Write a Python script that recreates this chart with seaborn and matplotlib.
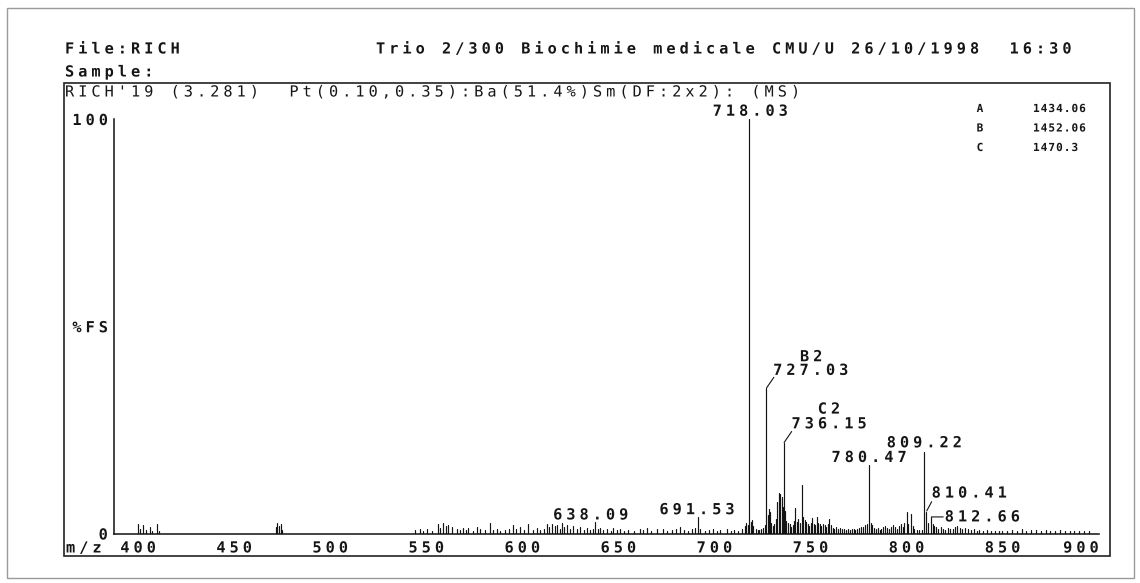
import numpy as np
import pandas as pd
import matplotlib
matplotlib.use("Agg")
import matplotlib.pyplot as plt
import matplotlib.patheffects as pe
from matplotlib.path import Path
from matplotlib.patches import Rectangle
import seaborn as sns

# ---------------- data ----------------
peak_mz = [
    400.2, 401.0, 402.8, 404.3, 406.0, 407.5, 409.7, 411.0,
    471.6, 472.6, 473.6, 474.4, 475.2,
    544.2, 546.8, 548.5, 550.3, 553.0, 556.3, 557.4, 559.0, 560.2, 561.6,
    563.3, 565.9, 567.5, 569.3, 571.0, 572.0, 574.2, 576.3, 578.0, 580.5,
    583.2, 585.0, 586.7, 588.5, 591.0, 593.0, 595.4, 597.0, 598.9, 601.0,
    603.2, 605.5, 607.5, 609.5, 611.2, 612.7, 614.0, 615.4, 617.0, 618.0,
    619.5, 620.6, 622.0, 623.2, 625.0, 626.7, 628.5, 630.1, 632.0, 633.6,
    635.5, 637.1, 638.09, 639.5, 640.5, 642.0, 644.0, 646.0, 647.4, 649.5,
    650.9, 653.0, 655.0, 658.0, 661.3, 663.0, 664.8, 667.0, 670.0, 673.4,
    675.5, 678.0, 680.0, 682.1, 684.0, 686.5, 688.5, 690.2, 691.53, 692.8,
    695.0, 697.0, 699.5, 701.5, 703.0, 706.4, 708.5, 710.5, 712.5, 714.5,
    715.8, 716.6, 717.3,
    718.03, 718.9, 719.6, 720.4, 721.5, 722.5, 723.5, 724.5, 725.5, 726.3,
    727.03, 727.7, 728.3, 729.0, 729.7, 730.5, 731.3, 732.1, 732.8, 733.5,
    734.2, 735.0, 735.6, 736.15, 736.8, 737.5, 738.3, 739.2, 740.0, 740.8,
    741.5, 742.1, 742.8, 743.6, 744.4, 745.5, 746.2, 747.0, 747.8, 748.6,
    749.4, 750.2, 750.9, 751.7, 752.5, 753.3, 754.1, 755.0, 755.8, 756.6,
    757.5, 758.3, 759.1, 759.9, 760.8, 761.6, 762.5, 763.5, 764.5, 765.5,
    766.5, 767.5, 768.5, 769.5, 770.5, 771.5, 772.5, 773.5, 774.5, 775.5,
    776.5, 777.5, 778.5, 779.3, 780.47, 781.4, 782.3, 783.2, 784.0, 785.0,
    786.0, 787.0, 788.0, 789.0, 790.0, 791.0, 792.0, 793.0, 794.0, 795.0,
    796.0, 797.0, 798.0, 799.0, 800.1, 801.0, 802.2, 803.2, 804.2, 805.5,
    806.8, 808.0, 809.22, 810.41, 811.5, 812.66, 813.6, 814.6, 815.6, 816.6,
    817.8, 819.0, 820.2, 821.5, 822.8, 824.0, 825.3, 826.5, 827.8, 829.0,
    830.5, 832.0, 833.5, 835.0, 836.5, 838.0, 840.0, 842.0, 844.0, 846.0,
    848.0, 850.0, 852.5, 855.0, 857.5, 860.0, 862.5, 865.0, 867.5, 870.0,
    872.5, 875.0, 877.5, 880.0, 882.5, 885.0, 887.5, 890.0, 892.5, 895.0,
]
peak_int = [
    2.4, 1.2, 2.0, 0.8, 1.5, 0.7, 2.4, 0.6,
    1.6, 2.6, 1.8, 2.4, 0.8,
    0.8, 1.0, 0.6, 1.2, 0.7, 2.2, 1.4, 2.6, 1.8, 2.0,
    1.6, 1.2, 0.8, 1.4, 0.9, 1.3, 0.7, 1.6, 1.1, 0.8,
    2.5, 0.9, 1.2, 0.7, 0.9, 1.0, 2.0, 1.1, 1.6, 0.8,
    2.3, 0.9, 1.3, 0.8, 1.1, 2.2, 1.6, 2.4, 1.8, 2.0,
    1.2, 2.6, 1.5, 2.0, 1.0, 1.8, 1.1, 1.6, 0.9, 1.4,
    0.8, 1.2, 2.8, 1.0, 1.4, 0.8, 1.2, 0.7, 1.3, 0.8,
    1.1, 0.6, 0.9, 0.7, 1.2, 0.8, 1.3, 0.7, 1.0, 1.2,
    0.7, 0.9, 1.1, 1.5, 0.8, 0.7, 1.0, 1.4, 4.0, 1.2,
    0.7, 0.9, 1.0, 0.6, 0.8, 1.0, 0.7, 0.8, 0.7, 1.2,
    1.8, 2.6, 2.0,
    100.0, 2.8, 3.2, 1.8, 1.0, 0.8, 0.9, 1.0, 1.3, 2.0,
    35.0, 4.5, 5.8, 5.2, 2.5, 1.8, 2.2, 3.5, 7.5, 9.7,
    9.5, 8.8, 6.5, 21.8, 5.5, 3.0, 2.6, 2.2, 1.5, 2.0,
    3.0, 6.2, 2.8, 3.4, 2.6, 11.7, 4.0, 3.2, 2.8, 2.2,
    1.8, 2.5, 3.7, 2.4, 2.0, 4.0, 2.6, 2.2, 1.8, 2.4,
    2.0, 1.6, 2.2, 3.6, 2.0, 1.4, 1.2, 1.5, 1.0, 1.3,
    1.0, 1.2, 0.9, 1.1, 0.9, 1.2, 1.0, 0.8, 1.1, 1.3,
    1.6, 1.5, 2.0, 2.4, 16.5, 2.6, 2.0, 1.4, 1.0, 1.3,
    0.9, 1.2, 1.5, 1.8, 1.4, 1.2, 1.6, 2.0, 1.5, 1.2,
    1.8, 2.2, 1.6, 2.5, 5.2, 2.4, 4.8, 1.8, 1.2, 0.9,
    0.8, 0.9, 19.7, 5.3, 2.5, 4.0, 2.2, 1.8, 1.5, 1.2,
    1.6, 1.2, 0.9, 1.4, 1.0, 1.2, 1.5, 1.8, 1.3, 1.0,
    1.4, 1.1, 0.8, 1.0, 0.7, 0.9, 0.6, 0.8, 0.6, 0.7,
    0.5, 0.7, 0.5, 0.9, 0.7, 1.0, 0.7, 0.9, 0.8, 0.6,
    0.9, 0.6, 0.7, 0.8, 0.5, 0.7, 0.6, 0.5, 0.7, 0.5,
]
label_mz = [718.03, 727.03, 736.15, 780.47, 809.22, 810.41, 812.66, 638.09, 691.53]
label_text = ["718.03", "727.03", "736.15", "780.47", "809.22", "810.41", "812.66", "638.09", "691.53"]
ion_mz = [727.03, 736.15]
ion_names = ["B2", "C2"]
x_ticks = [400, 450, 500, 550, 600, 650, 700, 750, 800, 850, 900]
y_ticks = [0, 50, 100]
y_tick_labels = ["0", "%FS", "100"]
ref_keys = ["A", "B", "C"]
ref_vals = ["1434.06", "1452.06", "1470.3"]

header_file = "File:RICH"
header_title = "Trio 2/300 Biochimie medicale CMU/U 26/10/1998  16:30"
header_sample = "Sample:"
header_scan = "RICH'19 (3.281)  Pt(0.10,0.35):Ba(51.4%)Sm(DF:2x2): (MS)"

# ---------------- style ----------------
sns.set_style("white")
MONO = "DejaVu Sans Mono"
plt.rcParams["font.family"] = [MONO, "DejaVu Sans"]
TXT = "#161616"
MONO_ADV = 1233 / 2048 * 100  # advance of DejaVu Sans Mono in text-path units


class Spaced(pe.AbstractPathEffect):
    """Letter-spacing for monospace text (printer-like spacing)."""

    def __init__(self, factor, ha="left"):
        super().__init__()
        self.extra = (factor - 1.0) * MONO_ADV
        self.ha = ha

    def draw_path(self, renderer, gc, tpath, affine, rgbFace=None):
        verts = np.array(tpath.vertices, dtype=float)
        codes = tpath.codes
        if codes is None or len(verts) == 0:
            renderer.draw_path(gc, tpath, affine, rgbFace)
            return
        codes = np.asarray(codes)
        starts = np.flatnonzero(codes == Path.MOVETO)
        ends = np.append(starts[1:], len(verts))
        cells = []
        for s, e in zip(starts, ends):
            m = codes[s:e] != Path.CLOSEPOLY
            seg = verts[s:e]
            cx = seg[m, 0].mean() if m.any() else seg[:, 0].mean()
            c = int(np.floor(cx / MONO_ADV))
            verts[s:e, 0] += c * self.extra
            cells.append(c)
        n = (max(cells) + 1) if cells else 1
        shift = {"left": 0.0, "center": -(n - 1) * self.extra / 2,
                 "right": -(n - 1) * self.extra}[self.ha]
        verts[:, 0] += shift
        renderer.draw_path(gc, Path(verts, codes), affine, rgbFace)


FS = 11          # main text size (pt)
SP = 1.435       # spacing factor -> ~13.2 px per character
W, H = 1140, 583
fig = plt.figure(figsize=(W / 100, H / 100), dpi=100)
fig.patch.set_facecolor("white")


def ftext(x, y, s, ha="left", size=FS, weight="bold", factor=SP):
    return fig.text(x / W, 1 - y / H, s, ha=ha, va="center", fontsize=size,
                    fontweight=weight, family=MONO, color=TXT,
                    path_effects=[Spaced(factor, ha)])


# axes: 400 -> px 138, 1.921 px per m/z unit
K = 1.921
ax_left, ax_right, ax_bottom, ax_top = 114, 1106, 533.5, 119
ax = fig.add_axes([ax_left / W, 1 - ax_bottom / H, (ax_right - ax_left) / W,
                   (ax_bottom - ax_top) / H])
ax.set_facecolor("none")

# stick spectrum through seaborn
rows = []
for i, (m, h) in enumerate(zip(peak_mz, peak_int)):
    rows.append((i, m, 0.0))
    rows.append((i, m, h))
df = pd.DataFrame(rows, columns=["peak", "mz", "intensity"])
sns.lineplot(data=df, x="mz", y="intensity", units="peak", estimator=None,
             sort=False, color="#141414", lw=0.85, ax=ax, legend=False)

xmin = 400 - (138 - ax_left) / K
xmax = 400 + (ax_right - 138) / K
ax.set_xlim(xmin, xmax)
ax.set_ylim(0, 100)
ax.set_xlabel("")
ax.set_ylabel("")
for s in ["top", "right"]:
    ax.spines[s].set_visible(False)
for s in ["left", "bottom"]:
    ax.spines[s].set_color("#111111")
    ax.spines[s].set_linewidth(1.1)
ax.spines["left"].set_bounds(0, 100)
ax.spines["bottom"].set_bounds(xmin, 900)

ax.set_xticks(x_ticks)
ax.set_xticklabels([str(t) for t in x_ticks])
ax.set_yticks(y_ticks)
ax.set_yticklabels(y_tick_labels)
ax.tick_params(axis="x", direction="inout", length=4, width=0.8, pad=3.0,
               colors=TXT, labelsize=FS)
ax.tick_params(axis="y", direction="out", length=3, width=0.8, pad=1.5,
               colors=TXT, labelsize=FS)
xtl = ax.get_xticklabels()
for i, t in enumerate(xtl):
    t.set_family(MONO)
    t.set_fontweight("bold")
    if i == len(xtl) - 1:
        t.set_ha("right")
        t.set_path_effects([Spaced(SP, "right")])
    else:
        t.set_path_effects([Spaced(SP, "center")])
for t in ax.get_yticklabels():
    t.set_family(MONO)
    t.set_fontweight("bold")
    t.set_path_effects([Spaced(SP, "right")])


def peak_top(m):
    return (m, peak_int[peak_mz.index(m)])


# label placement (offsets in points from the peak top)
label_offset = {
    718.03: (0.8, 5.6), 727.03: (31.9, 13.0), 736.15: (32.5, 13.9),
    780.47: (0.0, 5.5), 809.22: (0.0, 6.5), 810.41: (30.7, 13.3),
    812.66: (37.0, 0.0), 638.09: (-3.5, 5.0), 691.53: (-0.9, 5.2),
}
leader_end = {727.03: (5.5, 8.0), 736.15: (5.7, 8.4), 810.41: (3.8, 7.1),
              812.66: (9.0, 0.0)}
ion_offset = {727.03: (32.3, 22.8), 736.15: (32.5, 24.5)}

for m, txt in zip(label_mz, label_text):
    ax.annotate(txt, xy=peak_top(m), xytext=label_offset[m],
                textcoords="offset points", ha="center", va="center",
                fontsize=FS, fontweight="bold", family=MONO, color=TXT,
                annotation_clip=False, path_effects=[Spaced(SP, "center")])
    if m in leader_end:
        ax.annotate("", xy=peak_top(m), xytext=leader_end[m],
                    textcoords="offset points", annotation_clip=False,
                    arrowprops=dict(arrowstyle="-", lw=0.8, color=TXT,
                                    shrinkA=0, shrinkB=0.5))
for m, name in zip(ion_mz, ion_names):
    ax.annotate(name, xy=peak_top(m), xytext=ion_offset[m],
                textcoords="offset points", ha="center", va="center",
                fontsize=FS, fontweight="bold", family=MONO, color=TXT,
                annotation_clip=False, path_effects=[Spaced(SP, "center")])

# header and surrounding text
ftext(65, 49, header_file)
ftext(376, 49, header_title)
ftext(65, 72, header_sample)
ftext(65, 92, header_scan, weight="normal")
ftext(66, 548, "m/z")
for i, (k, v) in enumerate(zip(ref_keys, ref_vals)):
    ftext(980, 109 + 19.5 * i, k, ha="center", size=8, factor=1.0)
    ftext(1033, 109 + 19.5 * i, v, size=8, factor=1.15)

# plot box and page frame
fig.add_artist(Rectangle((64 / W, 1 - 556 / H), (1110 - 64) / W, (556 - 82.5) / H,
                         transform=fig.transFigure, fill=False, lw=1.2,
                         ec="#222222"))
fig.add_artist(Rectangle((7 / W, 1 - 578 / H), (1134 - 7) / W, (578 - 7.5) / H,
                         transform=fig.transFigure, fill=False, lw=1.0,
                         ec="#9a9a9a"))

fig.savefig("out.png", dpi=100, facecolor="white")
